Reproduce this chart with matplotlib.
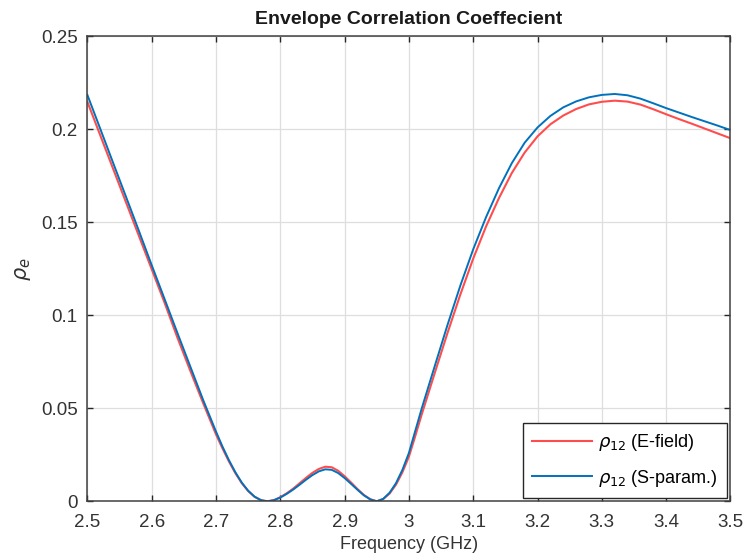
import matplotlib.pyplot as plt
from matplotlib.ticker import FormatStrFormatter

plt.rcParams['font.family'] = ['Liberation Sans', 'DejaVu Sans']
plt.rcParams['mathtext.fontset'] = 'dejavusans'

freq = [2.50, 2.52, 2.54, 2.56, 2.58, 2.60, 2.62, 2.64, 2.66, 2.68,
        2.70, 2.71, 2.72, 2.73, 2.74, 2.75, 2.76, 2.77, 2.78, 2.79,
        2.80, 2.81, 2.82, 2.83, 2.84, 2.85, 2.86, 2.87, 2.88, 2.89,
        2.90, 2.91, 2.92, 2.93, 2.94, 2.95, 2.96, 2.97, 2.98, 2.99,
        3.00, 3.01, 3.02, 3.04, 3.06, 3.08, 3.10, 3.12, 3.14, 3.16,
        3.18, 3.20, 3.22, 3.24, 3.26, 3.28, 3.30, 3.32, 3.34, 3.36,
        3.38, 3.40, 3.42, 3.44, 3.46, 3.48, 3.50]

rho_efield = [0.2148, 0.1968, 0.1788, 0.1608, 0.1428, 0.1248, 0.1068, 0.0880, 0.0702, 0.0528,
              0.0360, 0.0285, 0.0215, 0.0152, 0.0098, 0.0055, 0.0024, 0.0006, 0.0000, 0.0006,
              0.0022, 0.0043, 0.0068, 0.0097, 0.0126, 0.0153, 0.0174, 0.0186, 0.0183, 0.0164,
              0.0135, 0.0101, 0.0066, 0.0034, 0.0011, 0.0000, 0.0012, 0.0042, 0.0090, 0.0157,
              0.0240, 0.0352, 0.0468, 0.0688, 0.0905, 0.1112, 0.1305, 0.1478, 0.1630, 0.1765,
              0.1875, 0.1962, 0.2027, 0.2074, 0.2109, 0.2134, 0.2148, 0.2154, 0.2149, 0.2133,
              0.2108, 0.2081, 0.2055, 0.2030, 0.2004, 0.1978, 0.1952]

rho_sparam = [0.2185, 0.2003, 0.1820, 0.1638, 0.1455, 0.1270, 0.1088, 0.0905, 0.0725, 0.0545,
              0.0375, 0.0295, 0.0222, 0.0157, 0.0101, 0.0057, 0.0025, 0.0006, 0.0000, 0.0006,
              0.0020, 0.0040, 0.0063, 0.0089, 0.0116, 0.0141, 0.0161, 0.0172, 0.0169, 0.0152,
              0.0125, 0.0094, 0.0062, 0.0032, 0.0010, 0.0000, 0.0013, 0.0046, 0.0098, 0.0170,
              0.0260, 0.0380, 0.0500, 0.0725, 0.0948, 0.1160, 0.1355, 0.1528, 0.1683, 0.1818,
              0.1928, 0.2010, 0.2072, 0.2118, 0.2150, 0.2172, 0.2185, 0.2190, 0.2183, 0.2165,
              0.2140, 0.2114, 0.2090, 0.2066, 0.2043, 0.2020, 0.1996]

fig = plt.figure(figsize=(7.43, 5.57), dpi=100)
ax = fig.add_axes([0.1176, 0.1, 0.8655, 0.8348])

ax.plot(freq, rho_efield, color='#ff4d4d', lw=1.5, label=r'$\rho_{12}$ (E-field)')
ax.plot(freq, rho_sparam, color='#0072bd', lw=1.4, label=r'$\rho_{12}$ (S-param.)')

ax.set_xlim(2.5, 3.5)
ax.set_ylim(0, 0.25)
ax.set_xticks([2.5, 2.6, 2.7, 2.8, 2.9, 3.0, 3.1, 3.2, 3.3, 3.4, 3.5])
ax.set_yticks([0, 0.05, 0.1, 0.15, 0.2, 0.25])
ax.xaxis.set_major_formatter(FormatStrFormatter('%g'))
ax.yaxis.set_major_formatter(FormatStrFormatter('%g'))
ax.grid(True, color='#dedede', lw=0.9)
ax.set_axisbelow(True)
ax.tick_params(direction='in', length=4, width=1, labelsize=13.5, colors='#262626',
               labelcolor='#333333', top=True, right=True)
ax.tick_params(axis='x', pad=9.5)
ax.tick_params(axis='y', pad=7)
for s in ax.spines.values():
    s.set_color('#404040')
    s.set_linewidth(1.1)

ax.set_title('Envelope Correlation Coeffecient', fontsize=14, fontweight='bold',
             color='#1a1a1a', pad=9)
ax.set_xlabel('Frequency (GHz)', fontsize=13, color='#333333', labelpad=3)
ax.set_ylabel(r'$\rho_e$', fontsize=15, color='#333333', labelpad=6)

leg = ax.legend(loc='lower right', fontsize=13, fancybox=False, framealpha=1,
                edgecolor='#262626', borderaxespad=0.2, handlelength=3.3,
                handletextpad=0.35, borderpad=0.5, labelspacing=0.8)
leg.get_frame().set_linewidth(1.0)

fig.savefig('out.png', dpi=100)
